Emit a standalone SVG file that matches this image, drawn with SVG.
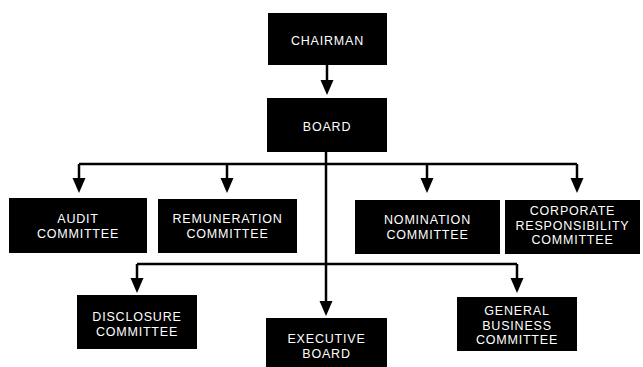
<svg xmlns="http://www.w3.org/2000/svg" width="643" height="367" viewBox="0 0 643 367">
  <style>
    .box { fill: #000; }
    .lbl { fill: #fff; font-family: "Liberation Sans", Arial, sans-serif; font-size: 12.5px; letter-spacing: 0.8px; text-anchor: middle; }
    .con { fill: none; stroke: #000; stroke-width: 2.5; }
  </style>
  <defs>
    <marker id="ah" markerUnits="userSpaceOnUse" markerWidth="15" markerHeight="13" refX="7" refY="6.5" orient="auto" overflow="visible">
      <path d="M0,0 L15,6.5 L0,13 Z" fill="#000"/>
    </marker>
  </defs>
  <rect width="643" height="367" fill="#fff"/>

  <g id="connectors">
    <path class="con" d="M327,65 V87" marker-end="url(#ah)"/>
    <path class="con" d="M326,152 V308" marker-end="url(#ah)"/>
    <path class="con" d="M79,164 H577"/>
    <path class="con" d="M79,164 V185" marker-end="url(#ah)"/>
    <path class="con" d="M227,164 V185" marker-end="url(#ah)"/>
    <path class="con" d="M427,164 V185" marker-end="url(#ah)"/>
    <path class="con" d="M577,164 V185" marker-end="url(#ah)"/>
    <path class="con" d="M137,264 H517"/>
    <path class="con" d="M137,264 V285" marker-end="url(#ah)"/>
    <path class="con" d="M517,264 V285" marker-end="url(#ah)"/>
  </g>

  <g id="chairman">
    <rect class="box" x="268" y="13" width="119" height="52"/>
    <text class="lbl" x="327.5" y="45">CHAIRMAN</text>
  </g>
  <g id="board">
    <rect class="box" x="267" y="98" width="120" height="54"/>
    <text class="lbl" x="327" y="131">BOARD</text>
  </g>
  <g id="audit">
    <rect class="box" x="9" y="198" width="138" height="55"/>
    <text class="lbl" x="78" y="222.5">AUDIT</text>
    <text class="lbl" x="78" y="237.5">COMMITTEE</text>
  </g>
  <g id="remuneration">
    <rect class="box" x="158" y="199" width="139" height="54"/>
    <text class="lbl" x="227.5" y="223">REMUNERATION</text>
    <text class="lbl" x="227.5" y="238">COMMITTEE</text>
  </g>
  <g id="nomination">
    <rect class="box" x="355" y="200" width="145" height="54"/>
    <text class="lbl" x="427.5" y="223.5">NOMINATION</text>
    <text class="lbl" x="427.5" y="238.5">COMMITTEE</text>
  </g>
  <g id="corporate">
    <rect class="box" x="505" y="200" width="135" height="54"/>
    <text class="lbl" x="572.5" y="215">CORPORATE</text>
    <text class="lbl" x="572.5" y="229.5">RESPONSIBILITY</text>
    <text class="lbl" x="572.5" y="244">COMMITTEE</text>
  </g>
  <g id="disclosure">
    <rect class="box" x="77" y="295" width="120" height="54"/>
    <text class="lbl" x="137" y="320.5">DISCLOSURE</text>
    <text class="lbl" x="137" y="336">COMMITTEE</text>
  </g>
  <g id="executive">
    <rect class="box" x="266" y="318" width="121" height="50"/>
    <text class="lbl" x="326.5" y="343">EXECUTIVE</text>
    <text class="lbl" x="326.5" y="357.5">BOARD</text>
  </g>
  <g id="general">
    <rect class="box" x="457" y="297" width="120" height="54"/>
    <text class="lbl" x="517" y="315">GENERAL</text>
    <text class="lbl" x="517" y="329.5">BUSINESS</text>
    <text class="lbl" x="517" y="344">COMMITTEE</text>
  </g>
</svg>
